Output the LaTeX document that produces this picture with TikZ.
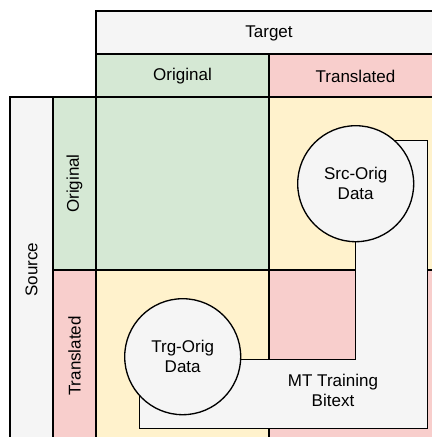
\documentclass[tikz,border=0pt]{standalone}
\usepackage{fontspec}
\setmainfont{Liberation Sans}
\usepackage{tikz}

\definecolor{origgreen}{HTML}{D5E8D4}
\definecolor{transred}{HTML}{F8CECC}
\definecolor{mixyellow}{HTML}{FFF2CC}
\definecolor{labelgrey}{HTML}{F5F5F5}

\begin{document}
\begin{tikzpicture}[x=0.75pt, y=-0.75pt, font=\fontsize{12.75}{15}\selectfont,
        grid/.style={draw=black, line width=1pt},
        disc/.style={circle, draw=black, line width=1pt, fill=labelgrey, minimum size=87pt, inner sep=0pt, align=center}]
                \useasboundingbox (0, 0) rectangle (432, 437);
                \clip (0, 0) rectangle (432, 437);

                % Target header
                \draw[grid, fill=labelgrey] (96, 11) rectangle (442, 54);
                \node (target) at (269, 33) {Target};
                \draw[grid, fill=origgreen] (96, 54) rectangle (269, 97); % Target original
                \node (tgtorig) at (182.5, 76) {Original};
                \draw[grid, fill=transred] (269, 54) rectangle (442, 97); % Target translated
                \node (tgttrans) at (355.5, 76) {Translated};

                % Source header
                \draw[grid, fill=labelgrey] (10, 97) rectangle (53, 442);
                \node[rotate=90] (source) at (31.5, 269.5) {Source};
                \draw[grid, fill=origgreen] (53, 97) rectangle (96, 270); % Source original
                \node[rotate=90] (srcorig) at (74.5, 183.5) {Original};
                \draw[grid, fill=transred] (53, 270) rectangle (96, 442); % Source translated
                \node[rotate=90] (srctrans) at (74.5, 356) {Translated};

                % Cells
                \draw[grid, fill=origgreen] (96, 97) rectangle (269, 270);
                \draw[grid, fill=mixyellow] (269, 97) rectangle (442, 270);
                \draw[grid, fill=mixyellow] (96, 270) rectangle (269, 442);
                \draw[grid, fill=transred] (269, 270) rectangle (442, 442);

                % MT training bitext
                \draw[grid, fill=labelgrey] (355.7, 140.7) -- (427.7, 140.7) -- (427.7, 428.3)
                    -- (139.3, 428.3) -- (139.3, 359.7) -- (355.7, 359.7) -- cycle;
                \node[align=center] (bitext) at (333, 390) {MT Training\\Bitext};

                % Original data
                \node[disc] (srcdata) at (355.7, 183.7) {Src-Orig\\Data};
                \node[disc] (trgdata) at (182.7, 356.7) {Trg-Orig\\Data};
            \end{tikzpicture}
\end{document}
